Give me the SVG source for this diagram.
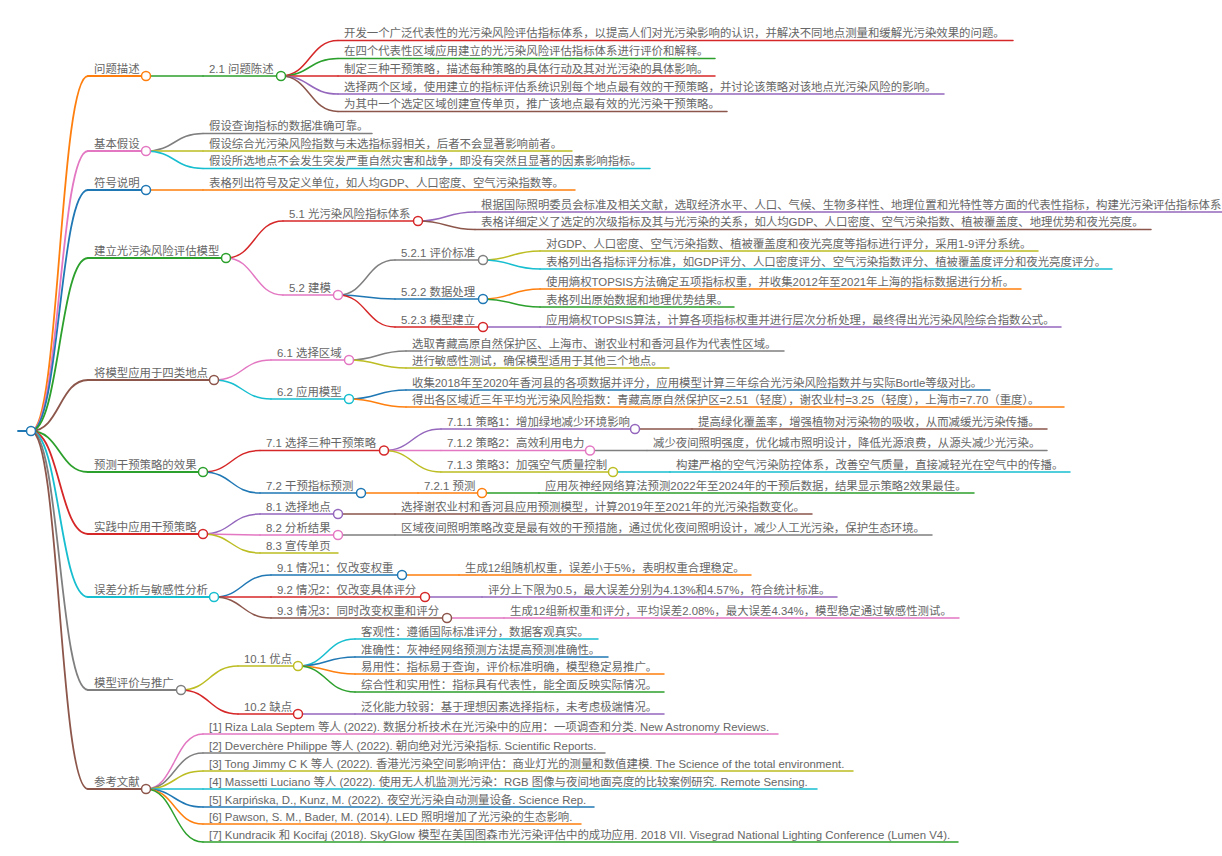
<svg xmlns="http://www.w3.org/2000/svg" width="1222" height="856" viewBox="0 0 1222 856">
<style>
text{font-family:"Liberation Sans","Noto Sans CJK SC",sans-serif;font-size:11.4px;fill:#666}
path,line{fill:none;stroke-width:1.5;stroke-linecap:round}
circle{fill:#fff;stroke-width:1.5}
.l1{stroke-width:1.8}
.blue{stroke:#1f77b4}.orange{stroke:#ff7f0e}.green{stroke:#2ca02c}.red{stroke:#d62728}.purple{stroke:#9467bd}
.brown{stroke:#8c564b}.pink{stroke:#e377c2}.gray{stroke:#7f7f7f}.olive{stroke:#bcbd22}.cyan{stroke:#17becf}
</style>
<rect width="1222" height="856" fill="#fff"/>
<g id="connectors">
<path class="l1 orange" d="M31 431C59.5 431 59.5 76 88 76"/>
<path class="l1 pink" d="M31 431C59.5 431 59.5 151 88 151"/>
<path class="l1 blue" d="M31 431C59.5 431 59.5 190 88 190"/>
<path class="l1 green" d="M31 431C59.5 431 59.5 258 88 258"/>
<path class="l1 brown" d="M31 431C59.5 431 59.5 380 88 380"/>
<path class="l1 green" d="M31 431C59.5 431 59.5 472 88 472"/>
<path class="l1 red" d="M31 431C59.5 431 59.5 534 88 534"/>
<path class="l1 cyan" d="M31 431C59.5 431 59.5 597 88 597"/>
<path class="l1 gray" d="M31 431C59.5 431 59.5 690 88 690"/>
<path class="l1 brown" d="M31 431C59.5 431 59.5 789 88 789"/>
<path class="green" d="M146 76H203"/>
<path class="red" d="M281 76C309.5 76 309.5 40.5 338 40.5"/>
<path class="green" d="M281 76C309.5 76 309.5 58.5 338 58.5"/>
<path class="red" d="M281 76H338"/>
<path class="purple" d="M281 76C309.5 76 309.5 94 338 94"/>
<path class="brown" d="M281 76C309.5 76 309.5 111.5 338 111.5"/>
<path class="gray" d="M146 151C174.5 151 174.5 133.5 203 133.5"/>
<path class="olive" d="M146 151H203"/>
<path class="cyan" d="M146 151C174.5 151 174.5 168.5 203 168.5"/>
<path class="orange" d="M146 190H203"/>
<path class="red" d="M226 258C254.5 258 254.5 221 283 221"/>
<path class="pink" d="M226 258C254.5 258 254.5 295 283 295"/>
<path class="purple" d="M418 221C446.5 221 446.5 212 475 212"/>
<path class="brown" d="M418 221C446.5 221 446.5 229.5 475 229.5"/>
<path class="gray" d="M338 295C366.5 295 366.5 260 395 260"/>
<path class="blue" d="M338 295C366.5 295 366.5 299 395 299"/>
<path class="red" d="M338 295C366.5 295 366.5 327 395 327"/>
<path class="olive" d="M483 260C511.5 260 511.5 251 540 251"/>
<path class="cyan" d="M483 260C511.5 260 511.5 269 540 269"/>
<path class="orange" d="M483 299C511.5 299 511.5 289 540 289"/>
<path class="green" d="M483 299C511.5 299 511.5 307 540 307"/>
<path class="purple" d="M483 327H540"/>
<path class="pink" d="M214 380C242.5 380 242.5 360 271 360"/>
<path class="cyan" d="M214 380C242.5 380 242.5 399 271 399"/>
<path class="gray" d="M349 360C377.5 360 377.5 351 406 351"/>
<path class="olive" d="M349 360C377.5 360 377.5 368 406 368"/>
<path class="blue" d="M349 399C377.5 399 377.5 390 406 390"/>
<path class="orange" d="M349 399C377.5 399 377.5 407 406 407"/>
<path class="red" d="M203 472C231.5 472 231.5 450.5 260 450.5"/>
<path class="blue" d="M203 472C231.5 472 231.5 493 260 493"/>
<path class="purple" d="M384 450.5C412.5 450.5 412.5 429 441 429"/>
<path class="pink" d="M384 450.5H441"/>
<path class="olive" d="M384 450.5C412.5 450.5 412.5 472 441 472"/>
<path class="brown" d="M635 429H692"/>
<path class="gray" d="M590 450.5H647"/>
<path class="cyan" d="M613 472H670"/>
<path class="orange" d="M361 493H418"/>
<path class="green" d="M482 493H539"/>
<path class="purple" d="M203 534C231.5 534 231.5 514 260 514"/>
<path class="pink" d="M203 534C231.5 534 231.5 535 260 535"/>
<path class="olive" d="M203 534C231.5 534 231.5 553 260 553"/>
<path class="brown" d="M338 514H395"/>
<path class="gray" d="M338 535H395"/>
<path class="blue" d="M214 597C242.5 597 242.5 575 271 575"/>
<path class="red" d="M214 597H271"/>
<path class="brown" d="M214 597C242.5 597 242.5 618 271 618"/>
<path class="orange" d="M402 575H459"/>
<path class="purple" d="M425 597H482"/>
<path class="pink" d="M447 618H504"/>
<path class="olive" d="M181 690C209.5 690 209.5 666 238 666"/>
<path class="red" d="M181 690C209.5 690 209.5 714 238 714"/>
<path class="cyan" d="M298 666C326.5 666 326.5 639 355 639"/>
<path class="blue" d="M298 666C326.5 666 326.5 657 355 657"/>
<path class="orange" d="M298 666C326.5 666 326.5 674 355 674"/>
<path class="green" d="M298 666C326.5 666 326.5 692 355 692"/>
<path class="purple" d="M298 714H355"/>
<path class="pink" d="M146 789C174.5 789 174.5 734 203 734"/>
<path class="gray" d="M146 789C174.5 789 174.5 753 203 753"/>
<path class="olive" d="M146 789C174.5 789 174.5 771 203 771"/>
<path class="cyan" d="M146 789H203"/>
<path class="blue" d="M146 789C174.5 789 174.5 807 203 807"/>
<path class="orange" d="M146 789C174.5 789 174.5 824 203 824"/>
<path class="green" d="M146 789C174.5 789 174.5 842 203 842"/>
</g>

<g id="n-root"><line class="l1 blue" x1="18" y1="431" x2="31" y2="431"/><circle class="blue" cx="31" cy="431" r="4.5"/></g>

<g id="n1"><line class="l1 orange" x1="88" y1="76" x2="146" y2="76"/><text x="94" y="72.5">问题描述</text><circle class="orange" cx="146" cy="76" r="4.5"/></g>
<g id="n1-1"><line class="green" x1="203" y1="76" x2="281" y2="76"/><text x="209" y="72.5">2.1 问题陈述</text><circle class="green" cx="281" cy="76" r="4.5"/></g>
<g id="n1-1-1"><line class="red" x1="338" y1="40.5" x2="1013" y2="40.5"/><text x="344" y="37">开发一个广泛代表性的光污染风险评估指标体系，以提高人们对光污染影响的认识，并解决不同地点测量和缓解光污染效果的问题。</text></g>
<g id="n1-1-2"><line class="green" x1="338" y1="58.5" x2="715" y2="58.5"/><text x="344" y="55">在四个代表性区域应用建立的光污染风险评估指标体系进行评价和解释。</text></g>
<g id="n1-1-3"><line class="red" x1="338" y1="76" x2="715" y2="76"/><text x="344" y="72.5">制定三种干预策略，描述每种策略的具体行动及其对光污染的具体影响。</text></g>
<g id="n1-1-4"><line class="purple" x1="338" y1="94" x2="944" y2="94"/><text x="344" y="90.5">选择两个区域，使用建立的指标评估系统识别每个地点最有效的干预策略，并讨论该策略对该地点光污染风险的影响。</text></g>
<g id="n1-1-5"><line class="brown" x1="338" y1="111.5" x2="727" y2="111.5"/><text x="344" y="108">为其中一个选定区域创建宣传单页，推广该地点最有效的光污染干预策略。</text></g>

<g id="n2"><line class="l1 pink" x1="88" y1="151" x2="146" y2="151"/><text x="94" y="147.5">基本假设</text><circle class="pink" cx="146" cy="151" r="4.5"/></g>
<g id="n2-1"><line class="gray" x1="203" y1="133.5" x2="372" y2="133.5"/><text x="209" y="130">假设查询指标的数据准确可靠。</text></g>
<g id="n2-2"><line class="olive" x1="203" y1="151" x2="572" y2="151"/><text x="209" y="147.5">假设综合光污染风险指数与未选指标弱相关，后者不会显著影响前者。</text></g>
<g id="n2-3"><line class="cyan" x1="203" y1="168.5" x2="650" y2="168.5"/><text x="209" y="165">假设所选地点不会发生突发严重自然灾害和战争，即没有突然且显著的因素影响指标。</text></g>

<g id="n3"><line class="l1 blue" x1="88" y1="190" x2="146" y2="190"/><text x="94" y="186.5">符号说明</text><circle class="blue" cx="146" cy="190" r="4.5"/></g>
<g id="n3-1"><line class="orange" x1="203" y1="190" x2="575" y2="190"/><text x="209" y="186.5">表格列出符号及定义单位，如人均GDP、人口密度、空气污染指数等。</text></g>

<g id="n4"><line class="l1 green" x1="88" y1="258" x2="226" y2="258"/><text x="94" y="254.5">建立光污染风险评估模型</text><circle class="green" cx="226" cy="258" r="4.5"/></g>
<g id="n4-1"><line class="red" x1="283" y1="221" x2="418" y2="221"/><text x="289" y="217.5">5.1 光污染风险指标体系</text><circle class="red" cx="418" cy="221" r="4.5"/></g>
<g id="n4-1-1"><line class="purple" x1="475" y1="212" x2="1222" y2="212"/><text x="481" y="208.5">根据国际照明委员会标准及相关文献，选取经济水平、人口、气候、生物多样性、地理位置和光特性等方面的代表性指标，构建光污染评估指标体系</text></g>
<g id="n4-1-2"><line class="brown" x1="475" y1="229.5" x2="1151" y2="229.5"/><text x="481" y="226">表格详细定义了选定的次级指标及其与光污染的关系，如人均GDP、人口密度、空气污染指数、植被覆盖度、地理优势和夜光亮度。</text></g>
<g id="n4-2"><line class="pink" x1="283" y1="295" x2="338" y2="295"/><text x="289" y="291.5">5.2 建模</text><circle class="pink" cx="338" cy="295" r="4.5"/></g>
<g id="n4-2-1"><line class="gray" x1="395" y1="260" x2="483" y2="260"/><text x="401" y="256.5">5.2.1 评价标准</text><circle class="gray" cx="483" cy="260" r="4.5"/></g>
<g id="n4-2-1-1"><line class="olive" x1="540" y1="251" x2="1038" y2="251"/><text x="546" y="247.5">对GDP、人口密度、空气污染指数、植被覆盖度和夜光亮度等指标进行评分，采用1-9评分系统。</text></g>
<g id="n4-2-1-2"><line class="cyan" x1="540" y1="269" x2="1112" y2="269"/><text x="546" y="265.5">表格列出各指标评分标准，如GDP评分、人口密度评分、空气污染指数评分、植被覆盖度评分和夜光亮度评分。</text></g>
<g id="n4-2-2"><line class="blue" x1="395" y1="299" x2="483" y2="299"/><text x="401" y="295.5">5.2.2 数据处理</text><circle class="blue" cx="483" cy="299" r="4.5"/></g>
<g id="n4-2-2-1"><line class="orange" x1="540" y1="289" x2="1021" y2="289"/><text x="546" y="285.5">使用熵权TOPSIS方法确定五项指标权重，并收集2012年至2021年上海的指标数据进行分析。</text></g>
<g id="n4-2-2-2"><line class="green" x1="540" y1="307" x2="734" y2="307"/><text x="546" y="303.5">表格列出原始数据和地理优势结果。</text></g>
<g id="n4-2-3"><line class="red" x1="395" y1="327" x2="483" y2="327"/><text x="401" y="323.5">5.2.3 模型建立</text><circle class="red" cx="483" cy="327" r="4.5"/></g>
<g id="n4-2-3-1"><line class="purple" x1="540" y1="327" x2="1061" y2="327"/><text x="546" y="323.5">应用熵权TOPSIS算法，计算各项指标权重并进行层次分析处理，最终得出光污染风险综合指数公式。</text></g>

<g id="n5"><line class="l1 brown" x1="88" y1="380" x2="214" y2="380"/><text x="94" y="376.5">将模型应用于四类地点</text><circle class="brown" cx="214" cy="380" r="4.5"/></g>
<g id="n5-1"><line class="pink" x1="271" y1="360" x2="349" y2="360"/><text x="277" y="356.5">6.1 选择区域</text><circle class="pink" cx="349" cy="360" r="4.5"/></g>
<g id="n5-1-1"><line class="gray" x1="406" y1="351" x2="784" y2="351"/><text x="412" y="347.5">选取青藏高原自然保护区、上海市、谢农业村和香河县作为代表性区域。</text></g>
<g id="n5-1-2"><line class="olive" x1="406" y1="368" x2="669" y2="368"/><text x="412" y="364.5">进行敏感性测试，确保模型适用于其他三个地点。</text></g>
<g id="n5-2"><line class="cyan" x1="271" y1="399" x2="349" y2="399"/><text x="277" y="395.5">6.2 应用模型</text><circle class="cyan" cx="349" cy="399" r="4.5"/></g>
<g id="n5-2-1"><line class="blue" x1="406" y1="390" x2="990" y2="390"/><text x="412" y="386.5">收集2018年至2020年香河县的各项数据并评分，应用模型计算三年综合光污染风险指数并与实际Bortle等级对比。</text></g>
<g id="n5-2-2"><line class="orange" x1="406" y1="407" x2="1064" y2="407"/><text x="412" y="403.5">得出各区域近三年平均光污染风险指数：青藏高原自然保护区=2.51（轻度），谢农业村=3.25（轻度），上海市=7.70（重度）。</text></g>

<g id="n6"><line class="l1 green" x1="88" y1="472" x2="203" y2="472"/><text x="94" y="468.5">预测干预策略的效果</text><circle class="green" cx="203" cy="472" r="4.5"/></g>
<g id="n6-1"><line class="red" x1="260" y1="450.5" x2="384" y2="450.5"/><text x="266" y="447">7.1 选择三种干预策略</text><circle class="red" cx="384" cy="450.5" r="4.5"/></g>
<g id="n6-1-1"><line class="purple" x1="441" y1="429" x2="635" y2="429"/><text x="447" y="425.5">7.1.1 策略1：增加绿地减少环境影响</text><circle class="purple" cx="635" cy="429" r="4.5"/></g>
<g id="n6-1-1-1"><line class="brown" x1="692" y1="429" x2="1047" y2="429"/><text x="698" y="425.5">提高绿化覆盖率，增强植物对污染物的吸收，从而减缓光污染传播。</text></g>
<g id="n6-1-2"><line class="pink" x1="441" y1="450.5" x2="590" y2="450.5"/><text x="447" y="447">7.1.2 策略2：高效利用电力</text><circle class="pink" cx="590" cy="450.5" r="4.5"/></g>
<g id="n6-1-2-1"><line class="gray" x1="647" y1="450.5" x2="1047" y2="450.5"/><text x="653" y="447">减少夜间照明强度，优化城市照明设计，降低光源浪费，从源头减少光污染。</text></g>
<g id="n6-1-3"><line class="olive" x1="441" y1="472" x2="613" y2="472"/><text x="447" y="468.5">7.1.3 策略3：加强空气质量控制</text><circle class="olive" cx="613" cy="472" r="4.5"/></g>
<g id="n6-1-3-1"><line class="cyan" x1="670" y1="472" x2="1070" y2="472"/><text x="676" y="468.5">构建严格的空气污染防控体系，改善空气质量，直接减轻光在空气中的传播。</text></g>
<g id="n6-2"><line class="blue" x1="260" y1="493" x2="361" y2="493"/><text x="266" y="489.5">7.2 干预指标预测</text><circle class="blue" cx="361" cy="493" r="4.5"/></g>
<g id="n6-2-1"><line class="orange" x1="418" y1="493" x2="482" y2="493"/><text x="424" y="489.5">7.2.1 预测</text><circle class="orange" cx="482" cy="493" r="4.5"/></g>
<g id="n6-2-1-1"><line class="green" x1="539" y1="493" x2="974" y2="493"/><text x="545" y="489.5">应用灰神经网络算法预测2022年至2024年的干预后数据，结果显示策略2效果最佳。</text></g>

<g id="n7"><line class="l1 red" x1="88" y1="534" x2="203" y2="534"/><text x="94" y="530.5">实践中应用干预策略</text><circle class="red" cx="203" cy="534" r="4.5"/></g>
<g id="n7-1"><line class="purple" x1="260" y1="514" x2="338" y2="514"/><text x="266" y="510.5">8.1 选择地点</text><circle class="purple" cx="338" cy="514" r="4.5"/></g>
<g id="n7-1-1"><line class="brown" x1="395" y1="514" x2="812" y2="514"/><text x="401" y="510.5">选择谢农业村和香河县应用预测模型，计算2019年至2021年的光污染指数变化。</text></g>
<g id="n7-2"><line class="pink" x1="260" y1="535" x2="338" y2="535"/><text x="266" y="531.5">8.2 分析结果</text><circle class="pink" cx="338" cy="535" r="4.5"/></g>
<g id="n7-2-1"><line class="gray" x1="395" y1="535" x2="932" y2="535"/><text x="401" y="531.5">区域夜间照明策略改变是最有效的干预措施，通过优化夜间照明设计，减少人工光污染，保护生态环境。</text></g>
<g id="n7-3"><line class="olive" x1="260" y1="553" x2="338" y2="553"/><text x="266" y="549.5">8.3 宣传单页</text></g>

<g id="n8"><line class="l1 cyan" x1="88" y1="597" x2="214" y2="597"/><text x="94" y="593.5">误差分析与敏感性分析</text><circle class="cyan" cx="214" cy="597" r="4.5"/></g>
<g id="n8-1"><line class="blue" x1="271" y1="575" x2="402" y2="575"/><text x="277" y="571.5">9.1 情况1：仅改变权重</text><circle class="blue" cx="402" cy="575" r="4.5"/></g>
<g id="n8-1-1"><line class="orange" x1="459" y1="575" x2="751" y2="575"/><text x="465" y="571.5">生成12组随机权重，误差小于5%，表明权重合理稳定。</text></g>
<g id="n8-2"><line class="red" x1="271" y1="597" x2="425" y2="597"/><text x="277" y="593.5">9.2 情况2：仅改变具体评分</text><circle class="red" cx="425" cy="597" r="4.5"/></g>
<g id="n8-2-1"><line class="purple" x1="482" y1="597" x2="837" y2="597"/><text x="488" y="593.5">评分上下限为0.5，最大误差分别为4.13%和4.57%，符合统计标准。</text></g>
<g id="n8-3"><line class="brown" x1="271" y1="618" x2="447" y2="618"/><text x="277" y="614.5">9.3 情况3：同时改变权重和评分</text><circle class="brown" cx="447" cy="618" r="4.5"/></g>
<g id="n8-3-1"><line class="pink" x1="504" y1="618" x2="959" y2="618"/><text x="510" y="614.5">生成12组新权重和评分，平均误差2.08%，最大误差4.34%，模型稳定通过敏感性测试。</text></g>

<g id="n9"><line class="l1 gray" x1="88" y1="690" x2="181" y2="690"/><text x="94" y="686.5">模型评价与推广</text><circle class="gray" cx="181" cy="690" r="4.5"/></g>
<g id="n9-1"><line class="olive" x1="238" y1="666" x2="298" y2="666"/><text x="244" y="662.5">10.1 优点</text><circle class="olive" cx="298" cy="666" r="4.5"/></g>
<g id="n9-1-1"><line class="cyan" x1="355" y1="639" x2="598" y2="639"/><text x="361" y="635.5">客观性：遵循国际标准评分，数据客观真实。</text></g>
<g id="n9-1-2"><line class="blue" x1="355" y1="657" x2="608" y2="657"/><text x="361" y="653.5">准确性：灰神经网络预测方法提高预测准确性。</text></g>
<g id="n9-1-3"><line class="orange" x1="355" y1="674" x2="664" y2="674"/><text x="361" y="670.5">易用性：指标易于查询，评价标准明确，模型稳定易推广。</text></g>
<g id="n9-1-4"><line class="green" x1="355" y1="692" x2="664" y2="692"/><text x="361" y="688.5">综合性和实用性：指标具有代表性，能全面反映实际情况。</text></g>
<g id="n9-2"><line class="red" x1="238" y1="714" x2="298" y2="714"/><text x="244" y="710.5">10.2 缺点</text><circle class="red" cx="298" cy="714" r="4.5"/></g>
<g id="n9-2-1"><line class="purple" x1="355" y1="714" x2="664" y2="714"/><text x="361" y="710.5">泛化能力较弱：基于理想因素选择指标，未考虑极端情况。</text></g>

<g id="n10"><line class="l1 brown" x1="88" y1="789" x2="146" y2="789"/><text x="94" y="785.5">参考文献</text><circle class="brown" cx="146" cy="789" r="4.5"/></g>
<g id="n10-1"><line class="pink" x1="203" y1="734" x2="778" y2="734"/><text x="209" y="730.5">[1] Riza Lala Septem 等人 (2022). 数据分析技术在光污染中的应用：一项调查和分类. New Astronomy Reviews.</text></g>
<g id="n10-2"><line class="gray" x1="203" y1="753" x2="605" y2="753"/><text x="209" y="749.5">[2] Deverchère Philippe 等人 (2022). 朝向绝对光污染指标. Scientific Reports.</text></g>
<g id="n10-3"><line class="olive" x1="203" y1="771" x2="853" y2="771"/><text x="209" y="767.5">[3] Tong Jimmy C K 等人 (2022). 香港光污染空间影响评估：商业灯光的测量和数值建模. The Science of the total environment.</text></g>
<g id="n10-4"><line class="cyan" x1="203" y1="789" x2="817" y2="789"/><text x="209" y="785.5">[4] Massetti Luciano 等人 (2022). 使用无人机监测光污染：RGB 图像与夜间地面亮度的比较案例研究. Remote Sensing.</text></g>
<g id="n10-5"><line class="blue" x1="203" y1="807" x2="594" y2="807"/><text x="209" y="803.5">[5] Karpińska, D., Kunz, M. (2022). 夜空光污染自动测量设备. Science Rep.</text></g>
<g id="n10-6"><line class="orange" x1="203" y1="824" x2="581" y2="824"/><text x="209" y="820.5">[6] Pawson, S. M., Bader, M. (2014). LED 照明增加了光污染的生态影响.</text></g>
<g id="n10-7"><line class="green" x1="203" y1="842" x2="958" y2="842"/><text x="209" y="838.5">[7] Kundracik 和 Kocifaj (2018). SkyGlow 模型在美国图森市光污染评估中的成功应用. 2018 VII. Visegrad National Lighting Conference (Lumen V4).</text></g>
</svg>
